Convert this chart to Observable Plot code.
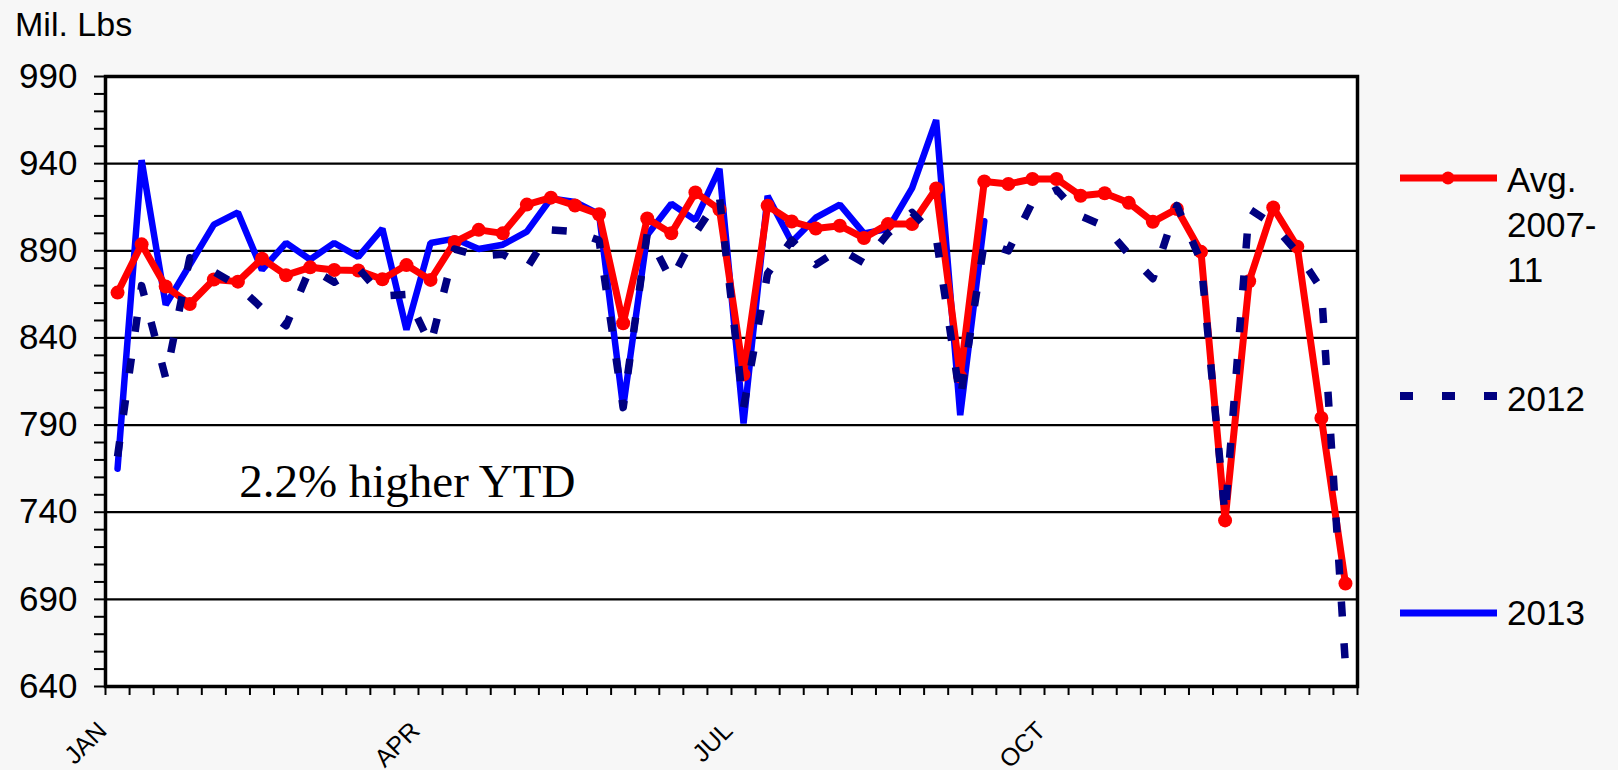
<!DOCTYPE html>
<html>
<head>
<meta charset="utf-8">
<script src="https://cdn.jsdelivr.net/npm/d3@7"></script>
<script src="https://cdn.jsdelivr.net/npm/@observablehq/plot@0.6"></script>
<style>
  html, body { margin: 0; padding: 0; background: #f7f7f7; }
  #chart { position: relative; width: 1618px; height: 770px; }
</style>
</head>
<body>
<div id="chart"></div>
<script>
// ---- data (weekly, 52 weeks) ----
const monthLabels = ["JAN", "APR", "JUL", "OCT"];
const monthWeeks = [0, 13, 26, 39];
const yTicks = [640, 690, 740, 790, 840, 890, 940, 990];
const seriesNames = ["Avg.\n2007-\n11", "2012", "2013"];
const annotation = "2.2% higher YTD";
const yAxisTitle = "Mil. Lbs";

const avg0711 = [866, 893.7, 869.5, 859.5, 873.5, 872.3, 885.5, 876, 880.5, 879,
  878.7, 873.7, 881.8, 873.3, 895, 902, 900, 916.5, 920.5, 916,
  911, 848.4, 908.5, 900, 923.5, 913.7, 819, 915.8, 906.8, 902.8,
  904.4, 897.3, 905.3, 905.3, 925.7, 817.8, 929.8, 928.3, 931.2, 931.2,
  921.6, 923, 917.5, 906.6, 914, 889.4, 735.3, 872.5, 914.8, 892.3,
  794.1, 699.1];

const y2012 = [772, 870, 817, 886, 878, 870, 857, 847, 880, 872,
  880, 864, 865, 836, 891, 887, 888, 880, 902, 901,
  896, 800, 900, 873, 900, 921, 800, 877, 896, 882,
  891, 883, 900, 912, 898, 805, 895, 890, 918, 925,
  910, 904, 888, 874, 916, 884, 738, 914, 905, 889,
  868, 652];

const y2013 = [765, 942, 859, 882, 905, 912, 879, 894.5, 885, 894.5,
  886.5, 902.7, 844.7, 894.5, 897, 891, 893.5, 901, 920, 918,
  911, 800, 899, 917, 907.6, 937, 791, 921.5, 895, 909,
  916.5, 900, 902.5, 926, 965, 795.7, 907];

const colors = ["#ff0000", "#000080", "#0000ff"];

// ---- layout ----
const W = 1618, H = 770;
const mL = 105, mR = 261, mT = 76, mB = 84;
const pts = arr => arr.map((v, i) => ({week: i + 0.5, value: v}));

const plot = Plot.plot({
  width: W, height: H,
  marginLeft: mL, marginRight: mR, marginTop: mT, marginBottom: mB,
  style: {background: "transparent", fontFamily: "'Liberation Sans', Arial, sans-serif", overflow: "visible", color: "#000"},
  x: {domain: [0, 52], label: null},
  y: {domain: [640, 990], label: null},
  marks: [
    Plot.frame({fill: "white", stroke: null}),
    Plot.ruleY(yTicks.slice(1, -1), {stroke: "#000", strokeWidth: 2.2}),
    Plot.axisY(d3.range(640, 991, 10), {tickSize: 11, text: null, label: null, stroke: "#000", strokeWidth: 2, strokeOpacity: 1}),
    Plot.axisY(yTicks, {tickSize: 0, tickPadding: 28, fontSize: 35, fill: "#000", label: null, tickFormat: d => String(d)}),
    Plot.axisX(d3.range(0, 53), {tickSize: 9, text: null, label: null, stroke: "#000", strokeWidth: 2, strokeOpacity: 1}),
    Plot.axisX(monthWeeks, {tickSize: 0, tickPadding: 40, tickRotate: -45, fontSize: 25, fill: "#000", label: null, dx: -3,
      tickFormat: d => monthLabels[monthWeeks.indexOf(d)]}),
    Plot.line(pts(y2013), {x: "week", y: "value", stroke: colors[2], strokeWidth: 6.5, strokeLinejoin: "miter"}),
    Plot.line(pts(avg0711), {x: "week", y: "value", stroke: colors[0], strokeWidth: 7}),
    Plot.dot(pts(avg0711), {x: "week", y: "value", r: 7, fill: colors[0], stroke: null}),
    Plot.line(pts(y2012), {x: "week", y: "value", stroke: colors[1], strokeWidth: 7.5, strokeDasharray: "15,27", strokeLinecap: "butt"}),
    Plot.frame({stroke: "#000", strokeWidth: 3.5}),
    Plot.text([annotation], {x: 5.55, y: 748.5, text: d => d, textAnchor: "start", lineAnchor: "bottom",
      fontFamily: "'Liberation Serif', serif", fontSize: 47, fill: "#000"})
  ]
});

document.getElementById("chart").appendChild(plot);

// ---- axis title and legend (outside plot area) ----
const svg = d3.select(plot);
svg.append("text")
  .attr("x", 15).attr("y", 36)
  .attr("text-anchor", "start")
  .attr("font-size", 34).attr("fill", "#000")
  .attr("font-family", "'Liberation Sans', Arial, sans-serif")
  .text(yAxisTitle);

const legend = svg.append("g")
  .attr("font-family", "'Liberation Sans', Arial, sans-serif")
  .attr("font-size", 35).attr("fill", "#000").attr("text-anchor", "start");
const legendRows = [
  {lineY: 178, textY: 192, dash: null, dot: true, width: 7},
  {lineY: 396, textY: 411, dash: "13,29", dot: false, width: 8},
  {lineY: 613, textY: 625, dash: null, dot: false, width: 7}
];
legendRows.forEach((r, i) => {
  const ln = legend.append("line")
    .attr("x1", 1400).attr("x2", 1497).attr("y1", r.lineY).attr("y2", r.lineY)
    .attr("stroke", colors[i]).attr("stroke-width", r.width);
  if (r.dash) ln.attr("stroke-dasharray", r.dash);
  if (r.dot) legend.append("circle").attr("cx", 1448).attr("cy", r.lineY).attr("r", 6.5).attr("fill", colors[i]);
  const t = legend.append("text").attr("x", 1507).attr("y", r.textY).attr("text-anchor", "start");
  seriesNames[i].split("\n").forEach((s, k) => {
    t.append("tspan").attr("x", 1507).attr("dy", k === 0 ? 0 : 45).text(s);
  });
});
</script>
</body>
</html>
